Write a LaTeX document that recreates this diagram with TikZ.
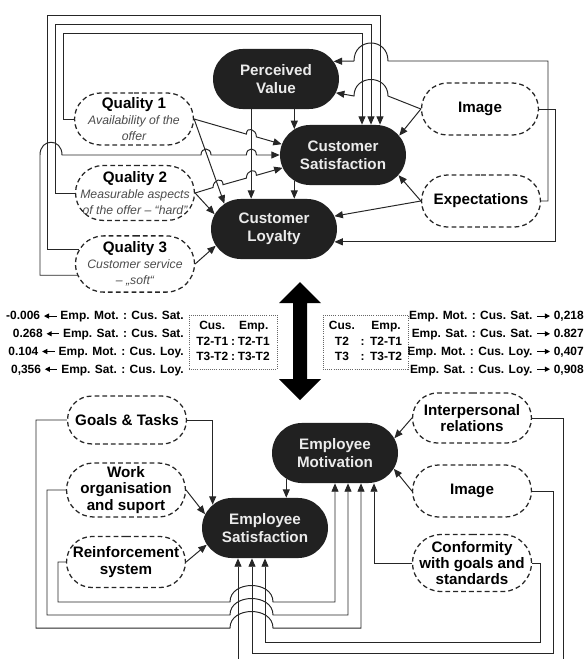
\documentclass[tikz,border=0pt]{standalone}
\usepackage{fontspec}
\setmainfont{Liberation Sans}
\usetikzlibrary{shapes.misc,arrows.meta,calc}

\newcommand{\lto}{\tikz[baseline=-0.6ex]\draw[black,line width=0.7pt,{Triangle[length=3.6pt,width=3.6pt]}-](0pt,0pt)--(9pt,0pt);}
\newcommand{\rto}{\tikz[baseline=-0.6ex]\draw[black,line width=0.7pt,-{Triangle[length=3.6pt,width=3.6pt]}](0pt,0pt)--(9pt,0pt);}
\newcommand{\subtxt}[1]{{\fontsize{8.7}{10.5}\selectfont\mdseries\itshape\color{black!70}#1}}

\tikzset{
    darktxt/.style={inner sep=0pt, align=center, text=black!8,
        font=\fontsize{10.8}{12.8}\selectfont\bfseries},
    softtxt/.style={inner sep=0pt, align=center,
        font=\fontsize{10.8}{11.5}\selectfont\bfseries},
    dark/.style={rounded rectangle, fill=black!87, inner sep=0pt,
        minimum width=89.6pt, minimum height=42.7pt, label={[darktxt]center:#1}},
    soft/.style={rounded rectangle, draw=black!85, line width=0.9pt, dash pattern=on 3.4pt off 2.2pt,
        inner sep=0pt, minimum width=84.6pt, minimum height=37pt, label={[softtxt]center:#1}},
    tbox/.style={draw=black!60, densely dotted, line width=0.5pt, inner sep=2pt,
        minimum height=38.4pt, font=\fontsize{8.5}{11}\selectfont\bfseries},
    stat/.style={inner sep=0pt, align=right, font=\fontsize{8.5}{12.6}\selectfont\bfseries},
    conn/.style={draw=black!85, line width=0.7pt, -{Triangle[length=6pt,width=5pt]}},
    hop/.style={to path={.. controls ($(\tikztostart)+(0,-#1)$) and ($(\tikztotarget)+(0,-#1)$) .. (\tikztotarget)}},
    hop/.default=8
}

\begin{document}
\begin{tikzpicture}[x=0.025cm, y=-0.025cm]
                \useasboundingbox (0,0) rectangle (585,659);

                \node[dark={Perceived\\Value}] (PV) at (276,79) {};
                \node[dark={Customer\\Satisfaction}] (CS) at (343,155) {};
                \node[dark={Customer\\Loyalty}] (CL) at (274,229) {};
                \node[soft={Quality 1\\ \subtxt{Availability of the}\\ \subtxt{offer}}] (Q1) at (134,119) {};
                \node[soft={Quality 2\\ \subtxt{Measurable aspects}\\ \subtxt{of the offer – “hard”}}, minimum height=39pt] (Q2) at (135,193) {};
                \node[soft={Quality 3\\ \subtxt{Customer service}\\ \subtxt{– „soft“}}, minimum height=40pt] (Q3) at (135,264) {};
                \node[soft=Image, minimum width=83.2pt] (ImgT) at (480,109) {};
                \node[soft=Expectations] (Exp) at (481,201) {};

                \node[stat, anchor=east] (lstat) at (184,343.5) {-0.006 \lto{} Emp. Mot. : Cus. Sat.\\0.268 \lto{} Emp. Sat. : Cus. Sat.\\0.104 \lto{} Emp. Mot. : Cus. Loy.\\0,356 \lto{} Emp. Sat. : Cus. Loy.};
                \node[stat, anchor=east] (rstat) at (584,343.5) {Emp. Mot. : Cus. Sat. \rto{} 0,218\\Emp. Sat. : Cus. Sat. \rto{} 0.827\\Emp. Mot. : Cus. Loy. \rto{} 0,407\\Emp. Sat. : Cus. Loy. \rto{} 0,908};
                \node[tbox, minimum width=62.6pt] (lbox) at (233,342) {\begin{tabular}{@{}c@{\hspace{2pt}}c@{\hspace{2pt}}c@{}}Cus.&&Emp.\\T2-T1&:&T2-T1\\T3-T2&:&T3-T2\end{tabular}};
                \node[tbox, minimum width=60.5pt] (rbox) at (365.5,342) {\begin{tabular}{@{}c@{\hspace{4pt}}c@{\hspace{4pt}}c@{}}Cus.&&Emp.\\T2&:&T2-T1\\T3&:&T3-T2\end{tabular}};
                \fill[black] (300,282) -- (321,303) -- (307,303) -- (307,379) -- (321,379) -- (300,400)
                    -- (279,379) -- (293,379) -- (293,303) -- (279,303) -- cycle;

                \node[dark={Employee\\Motivation}] (EM) at (335,453) {};
                \node[dark={Employee\\Satisfaction}] (ES) at (265,528) {};
                \node[soft={Goals \& Tasks}, minimum height=34pt] (GT) at (127,420) {};
                \node[soft={Work\\organisation\\and suport}, minimum height=38.4pt] (WO) at (126,490) {};
                \node[soft={Reinforcement\\system}, minimum height=36.3pt] (RS) at (126,562) {};
                \node[soft={Interpersonal\\relations}, minimum height=35.6pt] (IR) at (472,418) {};
                \node[soft=Image] (ImgB) at (472,491) {};
                \node[soft={Conformity\\with goals and\\standards}, minimum height=40.5pt] (CF) at (472,563) {};

                \draw[conn] (Q1.west) -| (63,33) -| ($(CS.north)+(19,0)$);
                \draw[conn] (Q2.west) -| (55,24) -| ($(CS.north)+(28,0)$);
                \draw[conn] (Q3.166) -| (47,15) -| ($(CS.north)+(37,0)$);
                \draw[conn] (Q3.191) -| (40,155) .. controls (40,138) and (62,138) .. (62,155)
                    -- (201,155) to[hop] (211,155) -- (246.4,155) to[hop] (256.4,155) -- (CS.west);
                \draw[conn] (Q1.east) -- (246.4,134.1) to[hop] (256.4,136.9) -- (CS.170);
                \draw[conn] (Q2.east) -- (213,187.5) to[hop] (223,184.7)
                    -- (246.4,178.1) to[hop] (256.4,175.3) -- (CS.192);
                \draw[conn] (Q1.east) -- (CL.153);
                \draw[conn] (Q2.east) -- (CL.166);
                \draw[conn] (Q3.east) -- (CL.196);
                \draw[conn] (PV.south -| CS.152) -- (CS.152);
                \draw[conn] (PV.south -| CL.127) -- (CL.127);
                \draw[conn] (CS.208) -- (CS.208 |- CL.north);
                \draw[conn] (ImgT.west) -- (388,96) to[hop=22] (354,96) -- (PV.347);
                \draw[conn] (Exp.east) -| (548,61) -- (388,61) to[hop=24] (354,61) -- (PV.17);
                \draw[conn] (ImgT.west) -- (CS.19);
                \draw[conn] (Exp.west) -- (CS.340);
                \draw[conn] (Exp.west) -- (CL.12);
                \draw[conn] (ImgT.east) -- ++(16.5,0) |- (CL.348);

                \draw[conn] (GT.east) -| (ES.156);
                \draw[conn] (WO.east) -- (ES.167);
                \draw[conn] (RS.east) -- (ES.196);
                \draw[conn] (EM.208) -- (EM.208 |- ES.north);
                \draw[conn] (IR.west) -- (EM.14);
                \draw[conn] (ImgB.west) -- (EM.345);
                \draw[conn] (CF.west) -| ($(EM.south)+(39,0)$);
                \draw[conn] (GT.west) -| (36,628) -- (230,628) to[hop=22] (273,628) -| ($(EM.south)+(26,0)$);
                \draw[conn] (WO.west) -| (47,615) -- (230,615) to[hop=22] (273,615) -| ($(EM.south)+(13,0)$);
                \draw[conn] (RS.west) -| (58,602) -- (230,602) to[hop=22] (273,602) -| (EM.south);
                \draw[conn] (CF.east) -| (540,642) -| (ES.south);
                \draw[conn] (ImgB.east) -| (553,653) -| ($(ES.south)+(-13,0)$);
                \draw[conn] (IR.east) -| (563,672) -| ($(ES.south)+(-27,0)$);
            \end{tikzpicture}
\end{document}
